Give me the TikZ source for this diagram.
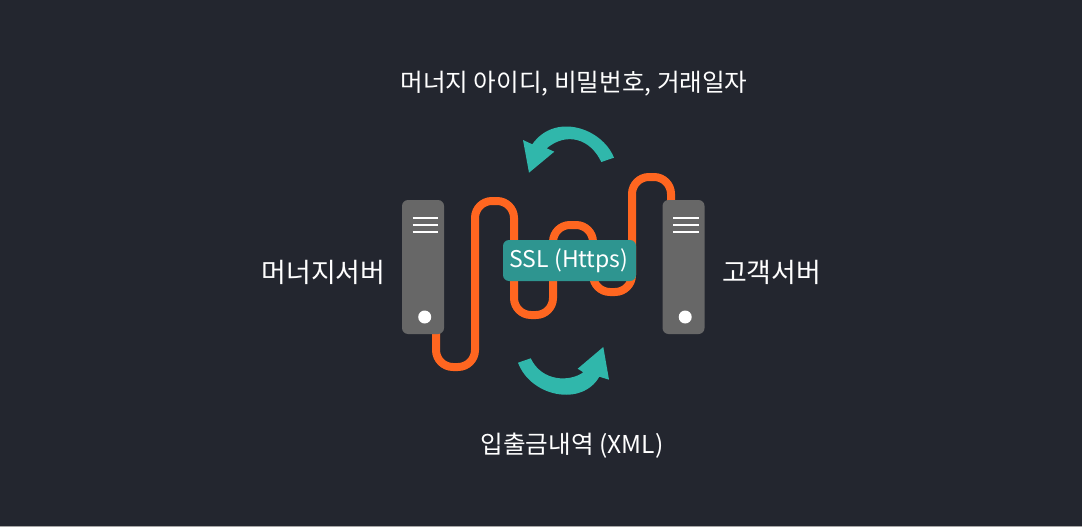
\documentclass[tikz,border=0pt]{standalone}
\usepackage{fontspec}
\setmainfont{Noto Sans CJK KR}
\usetikzlibrary{calc}
\definecolor{bgdark}{HTML}{23262F}
\definecolor{srvgray}{HTML}{676767}
\definecolor{pipeorange}{HTML}{FF6620}
\definecolor{arrowteal}{HTML}{30B7AB}
\definecolor{badgeteal}{HTML}{2E9590}

\begin{document}
\begin{tikzpicture}[
  x=1pt,y=-1pt,
  server/.style={draw=none,fill=srvgray,rounded corners=6pt,minimum width=42pt,minimum height=134pt,inner sep=0},
  badge/.style={fill=badgeteal,rounded corners=6pt,minimum width=133pt,minimum height=41pt,inner sep=0},
  label/.style={text=white,inner sep=0,font=\fontsize{24.6}{28}\selectfont},
  srvlabel/.style={label,font=\fontsize{26.9}{30}\selectfont},
  pipe/.style={draw=pipeorange,line width=8pt,rounded corners=17pt},
  flow/.style={fill=arrowteal,draw=none}]

  \fill[bgdark] (0,0) rectangle (1082,527);
  \fill[gray!70] (0,526) rectangle (1082,527);
  \useasboundingbox (0,0) rectangle (1082,527);

  \coordinate (pipestart) at (436,330);
  \coordinate (pipeend) at (671,204);

  \draw[pipe] (pipestart) -- (436,367) -- (475,367) -- (475,201) -- (514,201)
    -- (514,315) -- (553,315) -- (553,225) -- (593,225) -- (593,292)
    -- (632,292) -- (632,177) -- (671,177) -- (pipeend);

  \node[server] (merchantsrv) at (423,267) {};
  \node[server] (customersrv) at (683.5,267) {};
  \foreach \srv in {merchantsrv,customersrv} {
    \foreach \yy in {-49,-42,-35}
      \draw[white,line width=2.7pt] ($(\srv)+(-10.5,\yy)$) -- ($(\srv)+(15,\yy)$);
    \fill[white] ($(\srv)+(1.7,50)$) circle (6.5pt);
  }

  \node[badge] (sslbadge) at (569.5,260.5) {};
  \node[label,font=\fontsize{23}{28}\selectfont] (ssllabel) at (569,260.5) {SSL (Https)};

  % top and bottom arrows
  \fill[flow] (614,157.7) .. controls (602,128) and (555,112) .. (532.3,144.3)
    -- (523,140) -- (529,172.7) -- (554.3,151.7) -- (546.7,148.3)
    .. controls (566,132) and (590,138) .. (601.3,162) -- cycle;
  \fill[flow] (518,362.7) .. controls (531,397) and (582,407) .. (599.3,376.7)
    -- (609,379.7) -- (603.3,347) -- (577.7,368.7) -- (583.3,372.3)
    .. controls (570,382) and (542,382) .. (530.7,358.3) -- cycle;

  \node[label] (toplabel) at (574,83.5) {머너지 아이디, 비밀번호, 거래일자};
  \node[label] (bottomlabel) at (572,445.5) {입출금내역 (XML)};
  \node[srvlabel] (merchantlabel) at (323.5,272) {머너지서버};
  \node[srvlabel] (customerlabel) at (771.5,272) {고객서버};
\end{tikzpicture}
\end{document}
